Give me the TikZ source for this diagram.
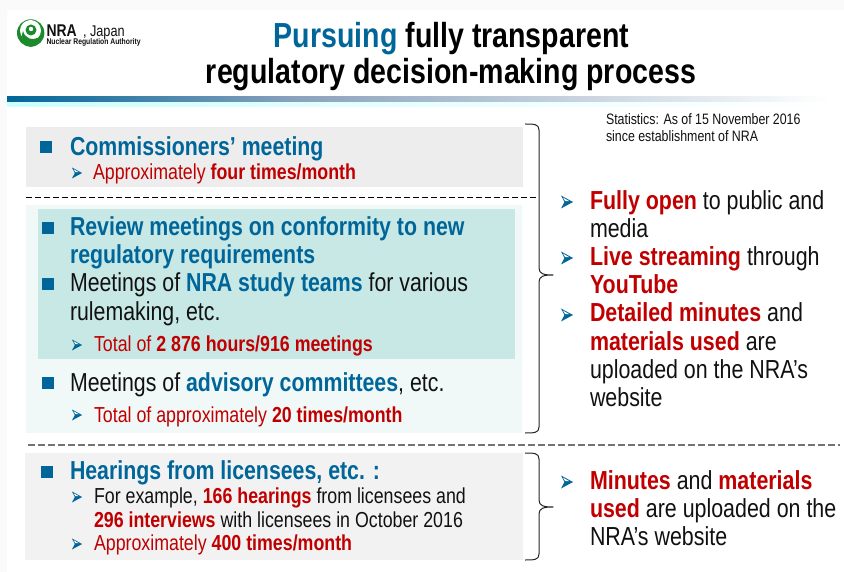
\documentclass[tikz,border=0pt]{standalone}
\usepackage{fontspec}
\setmainfont{Liberation Sans}[FakeStretch=0.82]
\definecolor{nblue}{HTML}{006699}
\definecolor{nred}{HTML}{C00000}
\definecolor{ntxt}{HTML}{111111}
\definecolor{ngreen}{HTML}{1B8A2B}
\definecolor{nteal}{HTML}{C8E8E6}
\definecolor{npale}{HTML}{F0F9F8}
\definecolor{nbar}{HTML}{8CA3BD}
\newcommand{\rb}[1]{\textcolor{nred}{\textbf{#1}}}
\newcommand{\bb}[1]{\textcolor{nblue}{\textbf{#1}}}
\newcommand{\rr}[1]{\textcolor{nred}{#1}}
\tikzset{
  x=1pt,y=-1pt,
  line/.style={anchor=base west,inner sep=0pt,outer sep=0pt,text=ntxt},
  big/.style={line,font=\fontsize{26}{26}\selectfont},
  sub/.style={line,font=\fontsize{21.7}{22}\selectfont},
  right/.style={line,font=\fontsize{26.1}{26}\selectfont},
  ttl/.style={anchor=base,inner sep=0pt,outer sep=0pt,font=\fontsize{34.8}{35}\selectfont\bfseries,text=black},
  note/.style={line,font=\fontsize{15.1}{15}\selectfont},
  sq/.pic={\fill[nblue] (-6,-6) rectangle (6,6);},
  arr/.pic={
    \fill[nblue] (-6,-6.5) -- (6,0) -- (-2.5,0) -- cycle;
    \fill[nblue] (-6,6.5) -- (6,0) -- (-2.5,0) -- cycle;
    \fill[white] (-4,-4.4) -- (2.2,-0.9) -- (-1.8,-0.9) -- cycle;},
  brace/.style={draw=black!85,line width=1pt,line join=round},
}
\begin{document}
\begin{tikzpicture}
\useasboundingbox (0,0) rectangle (844,572);
\fill[black!2] (0,0) rectangle (844,572);
\fill[white] (7,10) rectangle (844,572);
% header bar
\shade[left color=nblue,right color=nbar] (7,97) rectangle (300,103);
\shade[left color=nbar,right color=white] (300,97) rectangle (830,103);
\shade[left color=cyan!20!white,right color=white] (7,103) rectangle (830,107);
% logo
\fill[ngreen] (30.7,33) circle (13.7);
\fill[white] (30.5,30.5) circle (10.5);
\fill[ngreen] (30.7,47) .. controls (21,42) and (21,36) .. (23,31) .. controls (25,38) and (31,42) .. (42,36) .. controls (41,41) and (36,45) .. (30.7,47) -- cycle;
\fill[ngreen] (31,30) circle (5.5);
\fill[white] (31,29) circle (2.2);
\node[line,font=\fontsize{17}{17}\selectfont\bfseries] (logoa) at (46.5,37) {NRA};
\node[line,font=\fontsize{15.5}{15}\selectfont] (logob) at (83,37) {, Japan};
\node[line,font=\fontsize{8.3}{8}\selectfont\bfseries] (logoc) at (46.5,44.5) {Nuclear Regulation Authority};
% title
\node[ttl] (t1) at (451.5,48) {\textcolor{nblue}{Pursuing} fully transparent};
\node[ttl] (t2) at (451,84) {regulatory decision-making process};
% panels
\fill[black!7] (26,127) rectangle (523,187);
\fill[npale] (26,205) rectangle (522,433);
\fill[nteal] (38,209) rectangle (515,359);
\fill[black!5] (25,453) rectangle (523,560);
\draw[black,dash pattern=on 6pt off 3pt,line width=.8pt] (26,197) -- (536,197);
\draw[black!55,dash pattern=on 7pt off 3pt,line width=1.1pt] (28,445) -- (840,445);
% left text
\pic at (46,147) {sq};
\node[big] (a1) at (70,156) {\bb{Commissioners’ meeting}};
\pic[scale=.85] at (77,173) {arr};
\node[sub] (a2) at (93,180) {\rr{Approximately }\rb{four times/month}};
\pic at (48,228) {sq};
\node[big] (b1) at (70,236) {\bb{Review meetings on conformity to new}};
\node[big] (b2) at (70,264) {\bb{regulatory requirements}};
\pic at (48,284) {sq};
\node[big] (c1) at (70,292) {Meetings of \bb{NRA study teams} for various};
\node[big] (c2) at (70,320) {rulemaking, etc.};
\pic[scale=.85] at (77,345) {arr};
\node[sub] (c3) at (94,352) {\rr{Total of }\rb{2 876 hours/916 meetings}};
\pic at (48,383) {sq};
\node[big] (d1) at (70,391) {Meetings of \bb{advisory committees}, etc.};
\pic[scale=.85] at (77,415) {arr};
\node[sub] (d2) at (94,422) {\rr{Total of approximately }\rb{20 times/month}};
\pic at (47,472) {sq};
\node[big] (e1) at (70,479) {\bb{Hearings from licensees, etc. :}};
\pic[scale=.85] at (77,497) {arr};
\node[sub] (e2) at (94,503) {For example, \rb{166 hearings} from licensees and};
\node[sub] (e3) at (94,527) {\rb{296 interviews} with licensees in October 2016};
\pic[scale=.85] at (77,544) {arr};
\node[sub] (e4) at (94,550) {\rr{Approximately }\rb{400 times/month}};
% braces
\draw[brace] (525,124) .. controls (534,124) and (539,124) .. (539,130) -- (539,268) .. controls (539,274) and (544,275) .. (553,275) .. controls (544,275) and (539,276) .. (539,282) -- (539,427) .. controls (539,433) and (534,433) .. (525,433);
\draw[brace] (525,453) .. controls (534,453) and (539,453) .. (539,459) -- (539,500) .. controls (539,506) and (544,507) .. (553,507) .. controls (544,507) and (539,508) .. (539,514) -- (539,554) .. controls (539,560) and (534,560) .. (525,560);
% note
\node[note] (n1) at (606,124.5) {Statistics: As of 15 November 2016};
\node[note] (n2) at (606,141.5) {since establishment of NRA};
% right text
\pic at (567,202) {arr};
\node[right] (r1) at (590,209.5) {\rb{Fully open} to public and};
\node[right] (r2) at (590,237.5) {media};
\pic at (567,258) {arr};
\node[right] (r3) at (590,265.5) {\rb{Live streaming} through};
\node[right] (r4) at (590,294) {\rb{YouTube}};
\pic at (567,315) {arr};
\node[right] (r5) at (590,322) {\rb{Detailed minutes} and};
\node[right] (r6) at (590,350) {\rb{materials used} are};
\node[right] (r7) at (590,378) {uploaded on the NRA’s};
\node[right] (r8) at (590,406) {website};
\pic at (567,482) {arr};
\node[right] (s1) at (590,489) {\rb{Minutes} and \rb{materials}};
\node[right] (s2) at (590,517) {\rb{used} are uploaded on the};
\node[right] (s3) at (590,545) {NRA’s website};
\end{tikzpicture}
\end{document}
